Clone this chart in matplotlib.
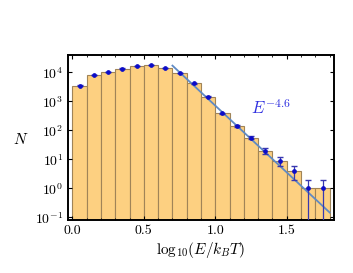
import matplotlib
matplotlib.use('Agg')
import matplotlib.pyplot as plt
import numpy as np

plt.rcParams['font.family'] = 'serif'
plt.rcParams['font.serif'] = ['cmr10']
plt.rcParams['mathtext.fontset'] = 'cm'
plt.rcParams['axes.formatter.use_mathtext'] = True
plt.rcParams['font.size'] = 10

# histogram of log10(E/kT), bin width 0.1
bin_left = np.arange(0.0, 1.8, 0.1)
counts = np.array([3500, 8300, 10300, 13400, 16000, 17500, 14500, 9300,
                   4150, 1450, 390, 146, 56, 20, 9, 4, 1, 1])
errors = np.sqrt(counts)

# power law fit E^-4.6
slope = -4.6
intercept = 7.45
fit_x = np.array([0.7, 1.8])

fig = plt.figure(figsize=(3.53, 2.73), dpi=100)
ax = fig.add_axes([0.193, 0.194, 0.753, 0.605])

ax.bar(bin_left, counts, width=0.1, align='edge', bottom=1e-3,
       color='#fdd081', edgecolor='#a08458', linewidth=0.8, zorder=1)
ax.plot(fit_x, 10 ** (intercept + slope * fit_x), color='#5f8ac4', lw=1.3, zorder=2)
ax.errorbar(bin_left + 0.05, counts, yerr=errors, fmt='o', ms=2.4,
            color='#0c0cc8', ecolor='#3838b0', elinewidth=0.9, capsize=2.5, zorder=3)
ax.text(1.39, 600, r'$E^{-4.6}$', color='#3030e0', fontsize=12, ha='center', va='center')

ax.set_yscale('log')
ax.set_xlim(-0.03, 1.83)
ax.set_ylim(10 ** -1.09, 10 ** 4.6)
ax.set_xticks([0.0, 0.5, 1.0, 1.5])
ax.set_xticklabels(['0.0', '0.5', '1.0', '1.5'])
ax.set_yticks([1e-1, 1, 10, 100, 1e3, 1e4])
ax.yaxis.set_minor_locator(matplotlib.ticker.NullLocator())
ax.xaxis.set_minor_locator(matplotlib.ticker.MultipleLocator(0.1))
ax.tick_params(direction='in', top=True, right=True, length=3, width=0.8, labelsize=10)
ax.tick_params(which='minor', direction='in', top=True, length=1.5, width=0.6)
for s in ax.spines.values():
    s.set_linewidth(1.4)

ax.set_xlabel(r'$\mathrm{log}_{10}(E/k_BT)$', fontsize=11, labelpad=2)
ax.set_ylabel(r'$N$', fontsize=11, rotation=0, va='center', ha='center')
ax.yaxis.set_label_coords(-0.18, 0.49)

fig.savefig('out.png', dpi=100)
